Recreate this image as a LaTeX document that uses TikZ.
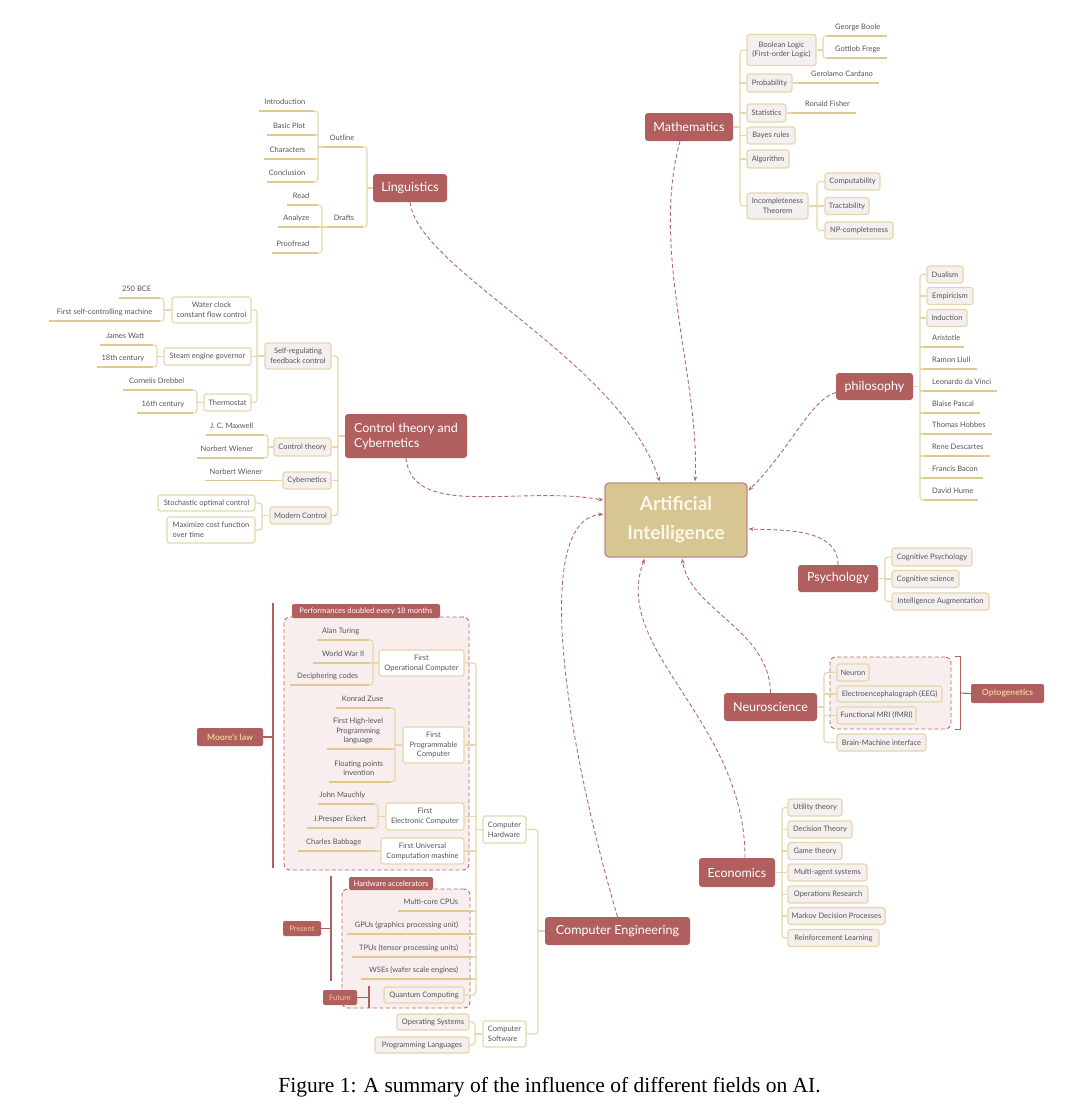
\documentclass[tikz,border=0pt]{standalone}
\usepackage{fontspec}
\setmainfont{Lato}
\newfontfamily\capfont{Liberation Serif}
\usetikzlibrary{arrows.meta}
\definecolor{topicred}{HTML}{B05F5E}
\definecolor{aitan}{HTML}{D8C692}
\definecolor{aiborder}{HTML}{C48A84}
\definecolor{subfill}{HTML}{F5EFEF}
\definecolor{tanline}{HTML}{E6D6AA}
\definecolor{ulcol}{HTML}{DFC98F}
\definecolor{txt}{HTML}{555555}
\definecolor{dashred}{HTML}{B56A6A}
\definecolor{groupfill}{HTML}{F8EEEE}
\definecolor{tantext}{HTML}{EDCB97}
\definecolor{aitext}{HTML}{FBF6E8}
\newcommand\mbx[7][sub]{\node[#1,minimum width=#5pt,minimum height=#6pt] (#2) at (#3,#4) {#7};}
\newcommand\leafR[6]{\node[leaf,anchor=south west] (#1) at (#2,#4) {\makebox[\dimexpr#3pt-#2pt\relax][r]{#6\hspace*{#5pt}}};}
\newcommand\leafL[6]{\node[leaf,anchor=south west] (#1) at (#2,#4) {\makebox[\dimexpr#3pt-#2pt\relax][l]{\hspace*{#5pt}#6}};}
\newcommand\mlines[1]{\begin{tabular}[b]{@{}c@{}}#1\end{tabular}}
\tikzset{
  topic/.style={fill=topicred, rounded corners=3pt, text=white, font=\fontsize{12.5}{15}\selectfont, inner sep=0pt, align=center},
  aibox/.style={fill=aitan, draw=aiborder, line width=1.4pt, rounded corners=4pt, text=aitext, font=\bfseries\fontsize{19}{29}\selectfont, inner sep=0pt, align=center},
  sub/.style={draw=tanline, line width=1.1pt, fill=subfill, rounded corners=2.5pt, text=txt, font=\fontsize{7.5}{9.8}\selectfont, inner sep=0pt, align=center},
  wsub/.style={sub, fill=white},
  leaf/.style={inner xsep=0pt, inner ysep=4pt, text depth=2pt, text=txt, font=\fontsize{7.5}{9.8}\selectfont},
  tag/.style={fill=topicred, text=tantext, rounded corners=2pt, inner sep=0pt, font=\bfseries\fontsize{8.5}{10}\selectfont},
  stag/.style={tag, font=\fontsize{7.5}{9}\selectfont},
  tabx/.style={fill=topicred, text=white, rounded corners=2pt, inner sep=0pt, font=\fontsize{7.6}{9}\selectfont},
  group/.style={draw=dashred, line width=0.9pt, dash pattern=on 4pt off 2.5pt, fill=groupfill, rounded corners=6pt, inner sep=0pt},
  conn/.style={draw=tanline, line width=1.1pt, rounded corners=3pt},
  ul/.style={draw=ulcol, line width=1.8pt},
  brk/.style={draw=topicred, line width=1.1pt},
  dconn/.style={draw=dashred, line width=0.9pt, dash pattern=on 4pt off 2.5pt, shorten >=1pt, -{Stealth[length=5pt,width=4pt]}}
}
\begin{document}
\begin{tikzpicture}[x=1pt,y=-1pt]
\fill[white] (0,0) rectangle (1080,1114);
\useasboundingbox (0,0) rectangle (1080,1114);

% ---------- groups ----------
\node[group, minimum width=185pt, minimum height=253pt] (perf) at (376.5,743.5) {};
\node[tabx, minimum width=148pt, minimum height=14pt] (perftab) at (366,611) {Performances doubled every 18 months};
\node[group, minimum width=128pt, minimum height=119pt] (accel) at (406,948.5) {};
\node[tabx, minimum width=84pt, minimum height=13pt] (acceltab) at (391,883.5) {Hardware accelerators};
\node[group, minimum width=121pt, minimum height=72pt] (neurobox) at (890.5,693) {};

% ---------- central ----------
\mbx[aibox]{ai}{676}{520}{142}{74}{Artificial\\Intelligence}

% ---------- topics ----------
\mbx[topic]{ling}{410}{188}{74}{28}{Linguistics}
\mbx[topic]{math}{689}{127}{88}{28}{Mathematics}
\mbx[topic,align=left]{ctrl}{406}{436}{122}{44}{Control theory and\\Cybernetics}
\mbx[topic]{philo}{874.5}{386.5}{77}{27}{philosophy}
\mbx[topic]{psych}{838}{578.5}{80}{27}{Psychology}
\mbx[topic]{neuro}{770.5}{707}{93}{28}{Neuroscience}
\mbx[topic]{econ}{737}{872.5}{76}{29}{Economics}
\mbx[topic]{ce}{617.5}{931}{145}{28}{Computer Engineering}

% ---------- Linguistics ----------
\leafR{outline}{324}{363}{147}{9}{Outline}
\leafR{drafts}{328}{363}{227}{9}{Drafts}
\leafR{intro}{259}{314}{111}{9}{Introduction}
\leafR{plot}{267}{314}{135}{9}{Basic Plot}
\leafR{chars}{264}{314}{159}{9}{Characters}
\leafR{concl}{267}{314}{182}{9}{Conclusion}
\leafR{read}{287}{318}{205}{9}{Read}
\leafR{analyze}{278}{318}{227}{9}{Analyze}
\leafR{proof}{272}{318}{253}{9}{Proofread}
\coordinate (Sling) at (367,188);
\coordinate (Sout) at (318,147);
\coordinate (Sdr) at (322,227);

% ---------- Control ----------
\mbx{selfreg}{298}{356}{66}{26}{Self-regulating\\feedback control}
\mbx{ctheory}{302.5}{447}{57}{18}{Control theory}
\mbx{cyb}{307}{480.5}{48}{17}{Cybernetics}
\mbx{modern}{300.5}{515.5}{61}{17}{Modern Control}
\mbx[wsub]{water}{211.5}{310}{79}{26}{Water clock\\constant flow control}
\mbx[wsub]{steam}{207.5}{356.5}{87}{17}{Steam engine governor}
\mbx[wsub]{thermo}{227.5}{402.5}{47}{17}{Thermostat}
\mbx[wsub]{stoch}{206.5}{503}{97}{16}{Stochastic optimal control}
\mbx[wsub,align=left]{maxcost}{211}{530}{88}{26}{Maximize cost function\\over time}
\leafR{bce}{119}{160}{298}{9}{250 BCE}
\leafR{firstself}{49}{160}{321}{8}{First self-controlling machine}
\leafR{watt}{100}{153}{345}{9}{James Watt}
\leafR{cxviii}{97}{153}{367}{9}{18th century}
\leafR{drebbel}{123}{193}{390}{9}{Cornelis Drebbel}
\leafR{cxvi}{137}{193}{413}{9}{16th century}
\leafR{maxwell}{206}{264}{435}{11}{J. C. Maxwell}
\leafR{wienera}{197}{264}{458}{11}{Norbert Wiener}
\leafR{wienerb}{205}{277}{480.5}{15}{Norbert Wiener}
\coordinate (Sctrl) at (338,436);
\coordinate (Sself) at (257,356);
\coordinate (Swater) at (164,310);
\coordinate (Ssteam) at (157,356.5);
\coordinate (Sthermo) at (197,402.5);
\coordinate (Sct) at (268,447);
\coordinate (Smod) at (262,515.5);

% ---------- Mathematics ----------
\mbx{bool}{781.5}{50}{69}{31}{Boolean Logic\\(First-order Logic)}
\mbx{prob}{769.5}{83}{45}{18}{Probability}
\mbx{stat}{766.5}{113}{39}{18}{Statistics}
\mbx{bayes}{771}{135.5}{48}{17}{Bayes rules}
\mbx{algo}{768}{159}{42}{18}{Algorithm}
\mbx{incomp}{777.5}{206}{61}{26}{Incompleteness\\Theorem}
\mbx{comp}{852.5}{181.5}{55}{17}{Computability}
\mbx{tract}{847}{206}{44}{17}{Tractability}
\mbx{np}{859}{230.5}{68}{17}{NP-completeness}
\leafL{boole}{827}{887}{36}{8}{George Boole}
\leafL{frege}{827}{887}{58}{8}{Gottlob Frege}
\leafL{cardano}{799}{879}{83}{12}{Gerolamo Cardano}
\leafL{fisher}{793}{856}{113}{12}{Ronald Fisher}
\coordinate (Smath) at (740,127);
\coordinate (Sbool) at (823,50);
\coordinate (Sinc) at (817,206);

% ---------- philosophy ----------
\mbx{dual}{945}{274.5}{36}{17}{Dualism}
\mbx{emp}{950}{296}{46}{17}{Empiricism}
\mbx{induc}{947}{318}{40}{17}{induction}
\leafL{aristotle}{924}{964}{347}{8}{Aristotle}
\leafL{llull}{924}{977}{369}{8}{Ramon Llull}
\leafL{davinci}{924}{997}{391}{8}{Leonardo da Vinci}
\leafL{pascal}{924}{980}{413}{8}{Blaise Pascal}
\leafL{hobbes}{924}{992}{434}{8}{Thomas Hobbes}
\leafL{descartes}{924}{990}{456}{8}{Rene Descartes}
\leafL{bacon}{924}{983}{478}{8}{Francis Bacon}
\leafL{hume}{924}{978}{500}{8}{David Hume}
\coordinate (Sph) at (920,386.5);

% ---------- Psychology ----------
\mbx{cogpsy}{932}{557}{80}{18}{Cognitive Psychology}
\mbx{cogsci}{925.5}{579}{67}{17}{Cognitive science}
\mbx{ia}{940.5}{601.5}{97}{17}{Intelligence Augmentation}
\coordinate (Sps) at (885,578.5);

% ---------- Neuroscience ----------
\mbx{neuron}{853}{672.5}{32}{17}{Neuron}
\mbx{eeg}{889.5}{694}{105}{16}{Electroencephalograph (EEG)}
\mbx{fmri}{876.5}{715.5}{79}{17}{Functional MRI (fMRI)}
\mbx{bmi}{881.5}{742.5}{89}{17}{Brain-Machine interface}
\mbx[tag]{opto}{1007.5}{693.5}{73}{19}{Optogenetics}
\coordinate (Sne) at (824,707);

% ---------- Economics ----------
\mbx{util}{815}{807.5}{54}{17}{Utility theory}
\mbx{dect}{820}{829.5}{64}{17}{Decision Theory}
\mbx{game}{815}{851}{54}{17}{Game theory}
\mbx{mas}{827.5}{872.5}{79}{17}{Multi-agent systems}
\mbx{opres}{828}{894.5}{80}{17}{Operations Research}
\mbx{mdp}{836.5}{916}{97}{17}{Markov Decision Processes}
\mbx{rl}{833.5}{938}{91}{17}{Reinforcement Learning}
\coordinate (Sec) at (782,872.5);

% ---------- Computer Engineering ----------
\mbx[wsub,align=left]{chw}{504.5}{829.5}{43}{27}{Computer\\Hardware}
\mbx[wsub,align=left]{csw}{504.5}{1034}{43}{26}{Computer\\Software}
\mbx[wsub]{opc}{421.5}{663}{85}{26}{First\\Operational Computer}
\mbx[wsub]{fpc}{433.5}{745}{61}{36}{First\\Programmable\\Computer}
\mbx[wsub]{fec}{425}{816.5}{78}{27}{First\\Electronic Computer}
\mbx[wsub]{fuc}{422.5}{851}{83}{26}{First Universal\\Computation mashine}
\mbx{qc}{424}{995}{80}{16}{Quantum Computing}
\mbx{os}{433}{1022}{72}{16}{Operating Systems}
\mbx{pl}{422}{1045}{94}{16}{Programming Languages}
\leafR{turing}{317}{369}{640}{10}{Alan Turing}
\leafR{wwii}{313}{369}{663}{5}{World War II}
\leafR{decipher}{290}{369}{685}{11}{Deciphering codes}
\leafR{zuse}{336}{391}{708}{8}{Konrad Zuse}
\leafR{highlevel}{327}{391}{749}{8}{\mlines{First High-level\\Programming\\language}}
\leafR{floating}{329}{391}{782}{8}{\mlines{Floating points\\invention}}
\leafR{mauchly}{318}{374}{804}{9}{John Mauchly}
\leafR{eckert}{307}{374}{828}{8}{J.Presper Eckert}
\leafR{babbage}{298}{375}{851}{14}{Charles Babbage}
\leafR{multicore}{398}{472}{911}{14}{Multi-core CPUs}
\leafR{gpus}{347}{472}{934}{14}{GPUs (graphics processing unit)}
\leafR{tpus}{352}{472}{957}{14}{TPUs (tensor processing units)}
\leafR{wses}{361}{472}{979}{14}{WSEs (wafer scale engines)}
\mbx[tag]{moore}{230}{737}{66}{18}{Moore's law}
\mbx[stag]{present}{302}{928.5}{38}{15}{Present}
\mbx[stag]{future}{340}{997.5}{34}{15}{Future}
\coordinate (Sce) at (538,931);
\coordinate (Shw) at (476,829.5);
\coordinate (Ssw) at (475,1034);
\coordinate (Sopc) at (373,663);
\coordinate (Sfpc) at (395,745);
\coordinate (Sfec) at (378,816.5);
\coordinate (Mtop) at (273,603);
\coordinate (Mbot) at (273,868);
\coordinate (Ptop) at (331,876);
\coordinate (Pbot) at (331,981);
\coordinate (Ftop) at (369,986);
\coordinate (Fbot) at (369,1008);

% ---------- tan connectors ----------
% Linguistics
\draw[conn] (ling.west) -- (Sling);
\draw[conn] (outline.south east) -| (Sling |- drafts.south east) -- (drafts.south east);
\draw[conn] (outline.south west) -- (Sout);
\draw[conn] (intro.south east) -| (Sout |- concl.south east) -- (concl.south east);
\foreach \m in {plot,chars} \draw[conn] (Sout |- \m.south east) -- (\m.south east);
\draw[conn] (drafts.south west) -- (Sdr);
\draw[conn] (read.south east) -| (Sdr |- proof.south east) -- (proof.south east);
\draw[conn] (Sdr |- analyze.south east) -- (analyze.south east);
% Control
\draw[conn] (ctrl.west) -- (Sctrl);
\draw[conn] (selfreg.east) -| (Sctrl |- modern.east) -- (modern.east);
\foreach \m in {ctheory,cyb} \draw[conn] (Sctrl |- \m.east) -- (\m.east);
\draw[conn] (selfreg.west) -- (Sself);
\draw[conn] (water.east) -| (Sself |- thermo.east) -- (thermo.east);
\draw[conn] (Sself |- steam.east) -- (steam.east);
\draw[conn] (water.west) -- (Swater);
\draw[conn] (bce.south east) -| (Swater |- firstself.south east) -- (firstself.south east);
\draw[conn] (steam.west) -- (Ssteam);
\draw[conn] (watt.south east) -| (Ssteam |- cxviii.south east) -- (cxviii.south east);
\draw[conn] (thermo.west) -- (Sthermo);
\draw[conn] (drebbel.south east) -| (Sthermo |- cxvi.south east) -- (cxvi.south east);
\draw[conn] (ctheory.west) -- (Sct);
\draw[conn] (maxwell.south east) -| (Sct |- wienera.south east) -- (wienera.south east);
\draw[conn] (cyb.west) -- (wienerb.south east);
\draw[conn] (modern.west) -- (Smod);
\draw[conn] (stoch.east) -| (Smod |- maxcost.east) -- (maxcost.east);
% Mathematics
\draw[conn] (math.east) -- (Smath);
\draw[conn] (bool.west) -| (Smath |- incomp.west) -- (incomp.west);
\foreach \m in {prob,stat,bayes,algo} \draw[conn] (Smath |- \m.west) -- (\m.west);
\draw[conn] (bool.east) -- (Sbool);
\draw[conn] (boole.south west) -| (Sbool |- frege.south west) -- (frege.south west);
\draw[conn] (prob.east) -- (cardano.south west);
\draw[conn] (stat.east) -- (fisher.south west);
\draw[conn] (incomp.east) -- (Sinc);
\draw[conn] (comp.west) -| (Sinc |- np.west) -- (np.west);
\draw[conn] (Sinc |- tract.west) -- (tract.west);
% philosophy
\draw[conn] (philo.east) -- (Sph);
\draw[conn] (dual.west) -| (Sph |- hume.south west) -- (hume.south west);
\foreach \m in {emp.west,induc.west,aristotle.south west,llull.south west,davinci.south west,pascal.south west,hobbes.south west,descartes.south west,bacon.south west}
  \draw[conn] (Sph |- \m) -- (\m);
% Psychology
\draw[conn] (psych.east) -- (Sps);
\draw[conn] (cogpsy.west) -| (Sps |- ia.west) -- (ia.west);
\draw[conn] (Sps |- cogsci.west) -- (cogsci.west);
% Neuroscience
\draw[conn] (neuro.east) -- (Sne);
\draw[conn] (neuron.west) -| (Sne |- bmi.west) -- (bmi.west);
\foreach \m in {eeg,fmri} \draw[conn] (Sne |- \m.west) -- (\m.west);
% Economics
\draw[conn] (econ.east) -- (Sec);
\draw[conn] (util.west) -| (Sec |- rl.west) -- (rl.west);
\foreach \m in {dect,game,mas,opres,mdp} \draw[conn] (Sec |- \m.west) -- (\m.west);
% Computer Engineering
\draw[conn] (ce.west) -- (Sce);
\draw[conn] (chw.east) -| (Sce |- csw.east) -- (csw.east);
\draw[conn] (chw.west) -- (Shw);
\draw[conn] (opc.east) -| (Shw |- qc.east) -- (qc.east);
\foreach \m in {fpc.east,fec.east,fuc.east,multicore.south east,gpus.south east,tpus.south east,wses.south east}
  \draw[conn] (Shw |- \m) -- (\m);
\draw[conn] (csw.west) -- (Ssw);
\draw[conn] (os.east) -| (Ssw |- pl.east) -- (pl.east);
\draw[conn] (opc.west) -- (Sopc);
\draw[conn] (turing.south east) -| (Sopc |- decipher.south east) -- (decipher.south east);
\draw[conn] (Sopc |- wwii.south east) -- (wwii.south east);
\draw[conn] (fpc.west) -- (Sfpc);
\draw[conn] (zuse.south east) -| (Sfpc |- floating.south east) -- (floating.south east);
\draw[conn] (Sfpc |- highlevel.south east) -- (highlevel.south east);
\draw[conn] (fec.west) -- (Sfec);
\draw[conn] (mauchly.south east) -| (Sfec |- eckert.south east) -- (eckert.south east);
\draw[conn] (fuc.west) -- (babbage.south east);

% ---------- underlines ----------
\foreach \n in {outline,drafts,intro,plot,chars,concl,read,analyze,proof,
  bce,firstself,watt,cxviii,drebbel,cxvi,maxwell,wienera,wienerb,
  boole,frege,cardano,fisher,
  aristotle,llull,davinci,pascal,hobbes,descartes,bacon,hume,
  turing,wwii,decipher,zuse,highlevel,floating,mauchly,eckert,babbage,
  multicore,gpus,tpus,wses}
  \draw[ul] (\n.south west) -- (\n.south east);

% ---------- red brackets ----------
\draw[brk] (Mtop) -- (Mbot);
\draw[brk] (moore.east) -- (Mtop |- moore.east);
\draw[brk] (Ptop) -- (Pbot);
\draw[brk] (present.east) -- (Ptop |- present.east);
\draw[brk] (Ftop) -- (Fbot);
\draw[brk] (future.east) -- (Ftop |- future.east);
\draw[brk] ([xshift=4pt]neurobox.north east) -- ++(5,0) |- ([xshift=4pt]neurobox.south east);
\draw[brk] ([xshift=9pt]neurobox.east) -- (opto.west);

% ---------- dashed influence arrows ----------
\draw[dconn] (ling.south) .. controls (418,270) and (620,360) .. ([xshift=-16pt]ai.north);
\draw[dconn] ([xshift=-9pt]math.south) .. controls (650,250) and (700,380) .. ([xshift=19pt]ai.north);
\draw[dconn] ([yshift=-6pt]philo.west) .. controls (810,400) and (790,450) .. ([yshift=-9pt]ai.north east);
\draw[dconn] (ctrl.south) .. controls (412,520) and (520,485) .. ([yshift=-18pt]ai.north west);
\draw[dconn] (psych.north) .. controls (838,530) and (790,530) .. ([yshift=-9pt]ai.east);
\draw[dconn] (neuro.north) .. controls (770,630) and (690,610) .. ([xshift=6pt]ai.south);
\draw[dconn] ([xshift=8pt]econ.north) .. controls (745,720) and (610,650) .. ([xshift=-31pt]ai.south);
\draw[dconn] (ce.north) .. controls (560,720) and (535,520) .. ([yshift=6pt]ai.west);

% ---------- caption ----------
\node[font=\capfont\fontsize{21.5}{25}\selectfont, text=black, inner sep=0pt] (caption) at (549.5,1087) {Figure 1: A summary of the influence of different fields on AI.};
\end{tikzpicture}
\end{document}
